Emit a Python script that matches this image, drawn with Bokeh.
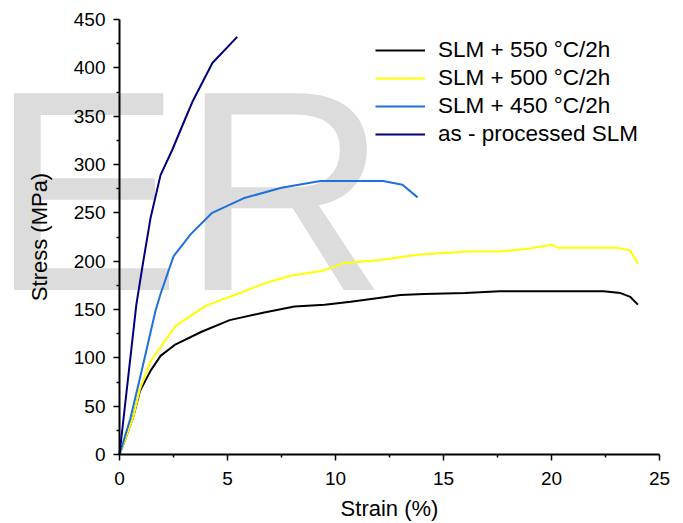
from bokeh.plotting import figure
from bokeh.models import Legend, LegendItem, Range1d, FixedTicker
from bokeh.core.properties import value
from bokeh.embed import file_html
from bokeh.resources import INLINE

# ---- data ----
x_550 = [0, 0.3, 0.65, 0.95, 1.45, 1.9, 2.6, 3.8, 5.1, 6.7, 8.1, 9.5, 10.7, 12.0, 13.0, 14.1, 16.0, 17.6, 20.0, 22.4, 23.2, 23.65, 24.0]
y_550 = [0, 18, 40, 66, 87, 102, 114, 127, 139, 147, 153, 155, 158, 162, 165, 166, 167, 169, 169, 169, 167, 163, 155]

x_500 = [0, 0.3, 0.65, 0.95, 1.45, 2.6, 4.0, 5.45, 6.84, 7.9, 9.4, 10.4, 12.0, 13.9, 16.1, 17.6, 19.0, 20.0, 20.3, 23.0, 23.65, 24.0]
y_500 = [0, 18, 40, 68, 97, 133, 154, 166, 178, 185, 190, 198, 201, 207, 210, 210, 213, 217, 214, 214, 211, 197]

x_450 = [0, 0.5, 1.0, 1.67, 1.9, 2.5, 3.3, 4.29, 5.74, 7.5, 9.3, 12.2, 13.1, 13.8]
y_450 = [0, 37, 84, 149, 166, 205, 228, 250, 265, 276, 283, 283, 279, 266]

x_asp = [0, 0.78, 1.08, 1.44, 1.9, 2.44, 3.0, 3.4, 4.3, 5.45]
y_asp = [0, 155, 197, 245, 289, 315, 345, 366, 405, 432]

labels = ["SLM + 550 \u00b0C/2h", "SLM + 500 \u00b0C/2h", "SLM + 450 \u00b0C/2h", "as - processed SLM"]
colors = ["#000000", "#ffff00", "#1e70dc", "#000080"]

x_ticks = [0, 5, 10, 15, 20, 25]
y_ticks = [0, 50, 100, 150, 200, 250, 300, 350, 400, 450]

watermark = "ER"

FONT = "Liberation Sans"

p = figure(width=683, height=523, output_backend="svg", toolbar_location=None,
           x_range=Range1d(0, 25), y_range=Range1d(0, 450),
           min_border_left=119, min_border_right=24, min_border_top=19, min_border_bottom=69)
p.outline_line_color = None
p.xgrid.visible = False
p.ygrid.visible = False

# watermark (drawn under axes and data)
p.text(x=[-5.97], y=[272.6], text=[watermark], text_font=value(FONT), text_font_size="286px",
       text_color="#dcdcdc", text_baseline="middle", text_align="left", level="guide")

renderers = []
for xs, ys, c in zip([x_550, x_500, x_450, x_asp], [y_550, y_500, y_450, y_asp], colors):
    r = p.line(xs, ys, line_color=c, line_width=2, level="annotation")
    renderers.append(r)

legend = Legend(items=[LegendItem(label=l, renderers=[r]) for l, r in zip(labels, renderers)],
                location=(256, 306), padding=0, margin=0, spacing=0,
                glyph_width=50, glyph_height=28, label_height=28, label_standoff=13,
                label_text_font=FONT, label_text_font_size="22.5px", label_text_color="#000000",
                border_line_color=None, background_fill_alpha=0, level="overlay")
p.add_layout(legend, "center")

for ax in (p.xaxis[0], p.yaxis[0]):
    ax.level = "annotation"
    ax.axis_line_width = 2
    ax.axis_line_color = "#000000"
    ax.major_tick_line_width = 1.5
    ax.minor_tick_line_width = 1.5
    ax.major_tick_in = 0
    ax.major_tick_out = 6
    ax.minor_tick_in = 0
    ax.minor_tick_out = 3
    ax.major_label_text_font = FONT
    ax.major_label_text_font_size = "19px"
    ax.major_label_text_color = "#000000"
    ax.axis_label_text_font = FONT
    ax.axis_label_text_font_size = "22px"
    ax.axis_label_text_font_style = "normal"
    ax.axis_label_text_color = "#000000"

p.xaxis[0].ticker = FixedTicker(ticks=x_ticks, minor_ticks=[2.5, 7.5, 12.5, 17.5, 22.5])
p.yaxis[0].ticker = FixedTicker(ticks=y_ticks, minor_ticks=[25, 75, 125, 175, 225, 275, 325, 375, 425])
p.xaxis[0].axis_label = "Strain (%)"
p.yaxis[0].axis_label = "Stress (MPa)"
p.xaxis[0].major_label_standoff = 11
p.yaxis[0].major_label_standoff = 8
p.xaxis[0].axis_label_standoff = 8
p.yaxis[0].axis_label_standoff = 19

open("out.html", "w").write(file_html(p, INLINE))
